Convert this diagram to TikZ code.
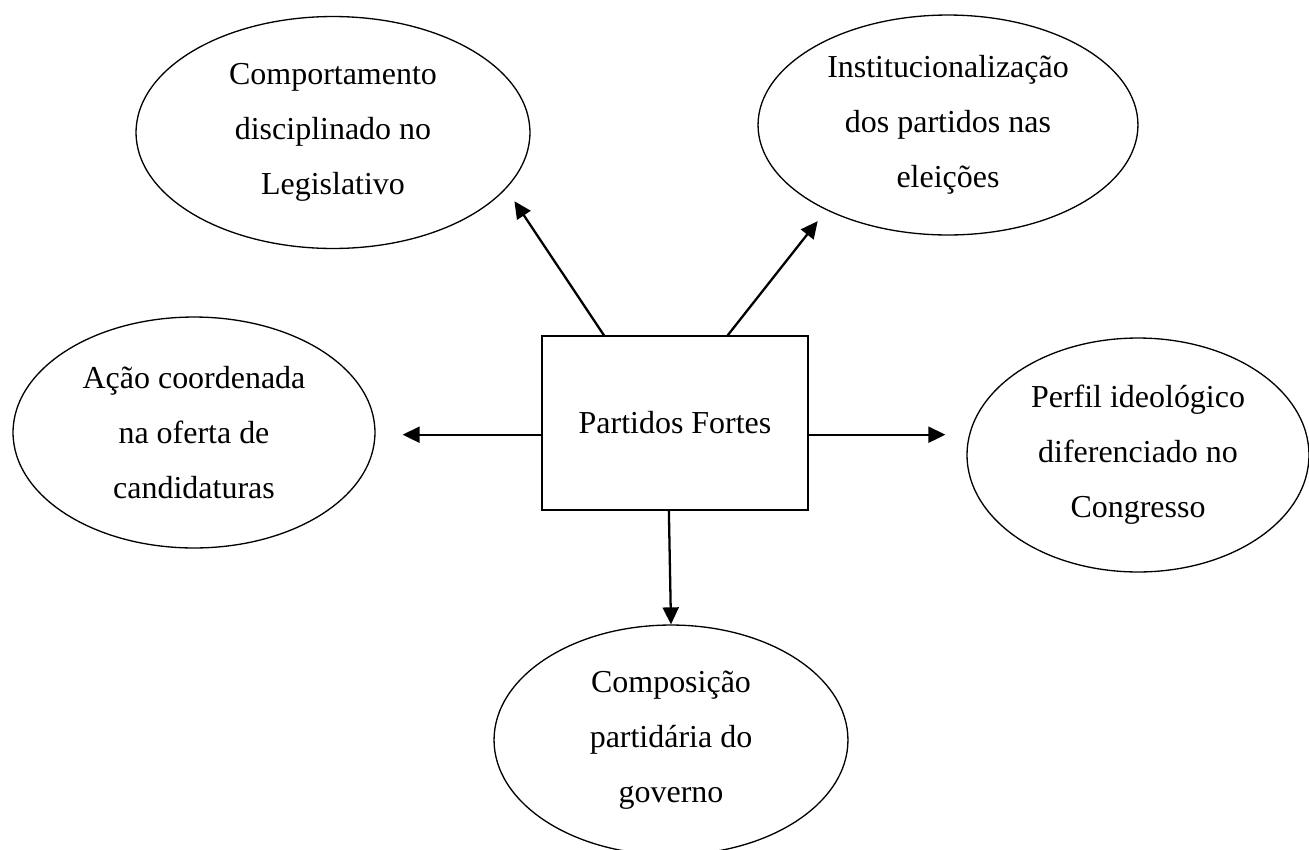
\documentclass[tikz,border=0pt]{standalone}
\usepackage{fontspec}
\setmainfont{Liberation Serif}
\usetikzlibrary{shapes.geometric,arrows.meta}

\begin{document}
\begin{tikzpicture}[x=0.02cm,y=-0.02cm,
    bubble/.style={draw,ellipse,line width=0.75pt,inner sep=0pt,align=center,
      font=\fontsize{18.2pt}{31.3pt}\selectfont},
    core/.style={draw,rectangle,line width=0.75pt,minimum width=5.32cm,
      minimum height=3.48cm,font=\fontsize{18.2pt}{31.3pt}\selectfont},
    link/.style={line width=1.3pt,-{Triangle[length=0.34cm,width=0.32cm]}}]
    \useasboundingbox (0,0) rectangle (1309,849);
    \node[core] (forte) at (675,423) {Partidos Fortes};
    \node[bubble,minimum width=7.88cm,minimum height=4.64cm] (disciplina) at (333,132.5)
      {Comportamento\\disciplinado no\\Legislativo};
    \node[bubble,minimum width=7.6cm,minimum height=4.4cm] (institucional) at (948,125)
      {Institucionalização\\dos partidos nas\\eleições};
    \node[bubble,minimum width=7.24cm,minimum height=4.62cm] (oferta) at (194,432.5)
      {Ação coordenada\\na oferta de\\candidaturas};
    \node[bubble,minimum width=6.84cm,minimum height=4.68cm] (ideologia) at (1138,455)
      {Perfil ideológico\\diferenciado no\\Congresso};
    \node[bubble,minimum width=7.08cm,minimum height=4.6cm] (governo) at (671,740)
      {Composição\\partidária do\\governo};
    % arrows out of the box
    \draw[link,shorten >=0.3cm] (forte.129) -- (disciplina.-18);
    \draw[link,shorten >=0.28cm] (forte.59.6) -- (institucional.215);
    \draw[link,shorten >=0.54cm] (forte.185.6) -- (forte.185.6 -| oferta.east);
    \draw[link,shorten >=0.42cm] (forte.-5.6) -- (forte.-5.6 -| ideologia.west);
    \draw[link] (forte.266) -- (governo.north);
  \end{tikzpicture}
\end{document}
